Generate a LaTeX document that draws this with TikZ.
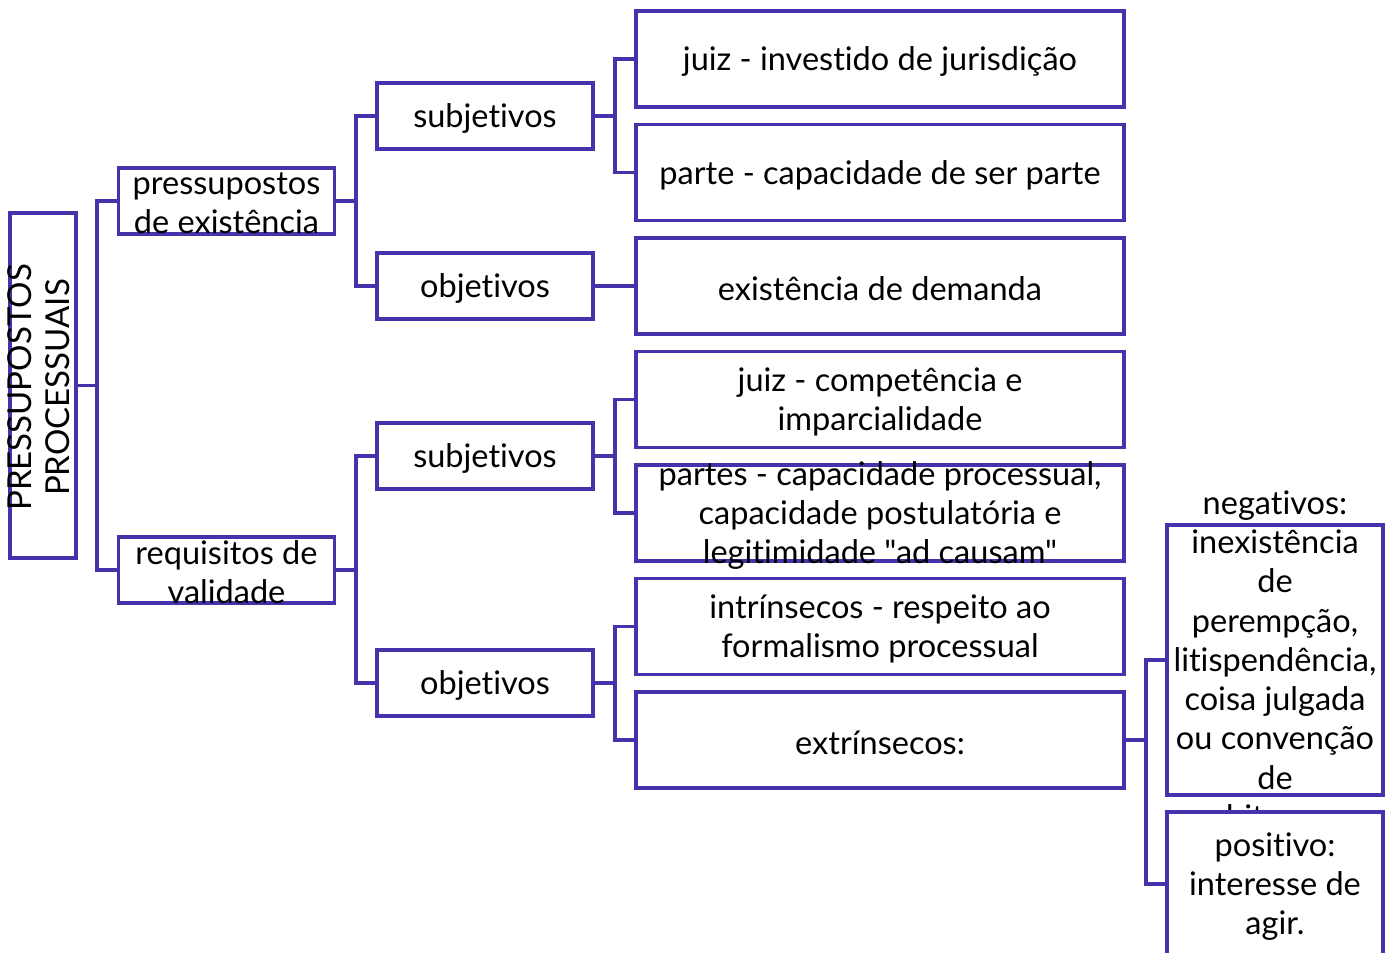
\documentclass[tikz,border=0pt]{standalone}
\usepackage{fontspec}
\setmainfont{Lato}[Ligatures={TeXOff,NoCommon}]
\begin{document}
\begin{tikzpicture}[x=1pt,y=-1pt,
  box/.style={draw=lc, line width=3.2pt, fill=white, inner sep=0pt, minimum width=#1},
  box/.default=216pt,
  txt/.style={align=center, font=\fontsize{32.5}{39.3}\selectfont, inner sep=0pt, yshift=-2.5pt},
  conn/.style={draw=lc, line width=3.2pt}]
\definecolor{lc}{HTML}{4433AA}
\useasboundingbox (0,0) rectangle (1395,953);
\clip (0,0) rectangle (1395,953);
% root
\node[box=66pt, minimum height=345pt] (root) at (43,385.5) {};
\node[txt, rotate=90, yshift=2.5pt, font=\fontsize{33}{38}\selectfont] at (41,385) {PRESSUPOSTOS\\PROCESSUAIS};
% level 1
\node[box, minimum height=66pt] (pe) at (226.5,201) {};
\node[txt] at (pe) {pressupostos\\de existência};
\node[box, minimum height=66pt] (rv) at (226.5,570) {};
\node[txt] at (rv) {requisitos de\\validade};
% level 2
\node[box, minimum height=66pt] (s1) at (485,116) {};
\node[txt] at (s1) {subjetivos};
\node[box, minimum height=66pt] (o1) at (485,286) {};
\node[txt] at (o1) {objetivos};
\node[box, minimum height=66pt] (s2) at (485,456) {};
\node[txt] at (s2) {subjetivos};
\node[box, minimum height=66pt] (o2) at (485,683) {};
\node[txt] at (o2) {objetivos};
% level 3
\node[box=488pt, minimum height=96pt] (a1) at (880,59) {};
\node[txt] at (a1) {juiz - investido de jurisdição};
\node[box=488pt, minimum height=96pt] (a2) at (880,172.5) {};
\node[txt] at (a2) {parte - capacidade de ser parte};
\node[box=488pt, minimum height=96pt] (a3) at (880,286) {};
\node[txt] at (a3) {existência de demanda};
\node[box=488pt, minimum height=96pt] (a4) at (880,399.5) {};
\node[txt] at (a4) {juiz - competência e\\imparcialidade};
\node[box=488pt, minimum height=96pt] (a5) at (880,513) {};
\node[txt] at (a5) {partes - capacidade processual,\\capacidade postulatória e\\legitimidade "ad causam"};
\node[box=488pt, minimum height=96pt] (a6) at (880,626.5) {};
\node[txt] at (a6) {intrínsecos - respeito ao\\formalismo processual};
\node[box=488pt, minimum height=96pt] (a7) at (880,740) {};
\node[txt] at (a7) {extrínsecos:};
% level 4
\node[box, minimum height=270pt] (n1) at (1275,660) {};
\node[txt] at (n1) {negativos:\\inexistência\\de\\perempção,\\litispendência,\\coisa julgada\\ou convenção\\de\\arbitragem};
\node[box, minimum height=144pt] (p1) at (1275,884) {};
\node[txt] at (p1) {positivo:\\interesse de\\agir.};
% connectors
\draw[conn] (root.east) -- (97,385.5) (pe.west) -| (97,385.5) |- (rv.west);
\draw[conn] (pe.east) -- (356,201) (s1.west) -| (356,201) |- (o1.west);
\draw[conn] (rv.east) -- (356,570) (s2.west) -| (356,570) |- (o2.west);
\draw[conn] (s1.east) -- (615,116) (a1.west) -| (615,116) |- (a2.west);
\draw[conn] (o1.east) -- (a3.west);
\draw[conn] (s2.east) -- (615,456) (a4.west) -| (615,456) |- (a5.west);
\draw[conn] (o2.east) -- (615,683) (a6.west) -| (615,683) |- (a7.west);
\draw[conn] (a7.east) -- (1146,740) (n1.west) -| (1146,740) |- (p1.west);
\end{tikzpicture}
\end{document}
